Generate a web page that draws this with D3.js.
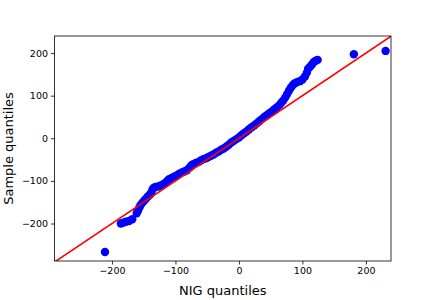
<!DOCTYPE html>
<html>
<head>
<meta charset="utf-8">
<script src="https://cdn.jsdelivr.net/npm/d3@7"></script>
<style>
  body { margin: 0; background: #fff; }
  svg { display: block; }
  text { font-family: "DejaVu Sans", sans-serif; fill: #000; }
</style>
</head>
<body>
<div id="chart"></div>
<script>
// theoretical (NIG) quantiles
var nigQuantiles = [
  -211, -186, -182, -178, -173, -168, -161, -159, -157, -155, -152, -149, -146, -143,
  -140, -138, -136, -134, -131, -127, -123, -119, -116, -113, -110, -106, -102, -98,
  -94, -90, -86, -82, -78, -75, -72, -68, -64, -60, -56, -52, -48, -44, -40, -36,
  -32, -28, -24, -20, -16, -12, -8, -4, 0, 4, 8, 12, 16, 20, 24, 28, 32, 36, 40,
  44, 48, 52, 56, 60, 64, 67, 70, 73, 76, 79, 82, 85, 88, 92, 96, 100, 104, 107,
  109, 112, 115, 118, 121, 124, 181, 231
];
// sample quantiles
var sampleQuantiles = [
  -267, -200, -198, -196, -194, -190, -176, -170, -163, -157, -151, -146, -141, -136,
  -132, -127, -120, -116, -114, -113, -111, -108, -105, -100, -96, -93, -90, -87,
  -83, -80, -78, -75, -69, -64, -61, -58, -56, -52, -49, -47, -44, -41, -38, -34,
  -31, -27, -24, -20, -15, -10, -6, -2, 2, 7, 12, 16, 21, 26, 30, 35, 40, 45, 50,
  54, 59, 63, 68, 73, 78, 84, 89, 96, 104, 112, 119, 125, 129, 132, 134, 138, 145, 154,
  163, 168, 173, 179, 182, 184, 197, 205
];
var xTicks = [-200, -100, 0, 100, 200];
var yTicks = [-200, -100, 0, 100, 200];
var xLabel = "NIG quantiles";
var yLabel = "Sample quantiles";

var ctx = {
  w: 436,
  h: 300,
  left: 54.5,
  top: 36,
  right: 391,
  bottom: 261,
};

var points = nigQuantiles.map(function(d, i) {
  return { x: d, y: sampleQuantiles[i] };
});

var x = d3.scaleLinear().domain([-290.5, 239.5]).range([ctx.left, ctx.right]);
var y = d3.scaleLinear().domain([-288, 240]).range([ctx.bottom, ctx.top]);

var svg = d3.select("#chart").append("svg")
  .attr("width", ctx.w)
  .attr("height", ctx.h);

svg.append("defs").append("clipPath")
  .attr("id", "plot-clip")
  .append("rect")
  .attr("x", ctx.left)
  .attr("y", ctx.top)
  .attr("width", ctx.right - ctx.left)
  .attr("height", ctx.bottom - ctx.top);

var plot = svg.append("g").attr("clip-path", "url(#plot-clip)");

plot.selectAll("circle")
  .data(points)
  .enter()
  .append("circle")
  .attr("cx", d => x(d.x))
  .attr("cy", d => y(d.y))
  .attr("r", 4.2)
  .attr("fill", "#0000ff");

// 45 degree reference line
plot.append("line")
  .attr("x1", x(-400)).attr("y1", y(-400))
  .attr("x2", x(400)).attr("y2", y(400))
  .attr("stroke", "#ff0000")
  .attr("stroke-width", 1.6);

var xAxis = svg.append("g")
  .attr("transform", "translate(0," + ctx.bottom + ")")
  .call(d3.axisBottom(x).tickValues(xTicks).tickFormat(d3.format("d")).tickSize(3.5).tickPadding(3));

var yAxis = svg.append("g")
  .attr("transform", "translate(" + ctx.left + ",0)")
  .call(d3.axisLeft(y).tickValues(yTicks).tickFormat(d3.format("d")).tickSize(3.5).tickPadding(3));

[xAxis, yAxis].forEach(function(a) {
  a.select(".domain").remove();
  a.selectAll("text").attr("font-size", "9.5px").attr("font-family", "DejaVu Sans");
  a.selectAll("line").attr("stroke", "#000").attr("stroke-width", 0.8);
});

svg.append("rect")
  .attr("x", ctx.left)
  .attr("y", ctx.top)
  .attr("width", ctx.right - ctx.left)
  .attr("height", ctx.bottom - ctx.top)
  .attr("fill", "none")
  .attr("stroke", "#000")
  .attr("stroke-width", 0.8);

svg.append("text")
  .attr("x", (ctx.left + ctx.right) / 2)
  .attr("y", 295)
  .attr("text-anchor", "middle")
  .attr("font-size", "13px")
  .text(xLabel);

svg.append("text")
  .attr("transform", "translate(13," + (ctx.top + ctx.bottom) / 2 + ") rotate(-90)")
  .attr("text-anchor", "middle")
  .attr("font-size", "13px")
  .text(yLabel);
</script>
</body>
</html>
